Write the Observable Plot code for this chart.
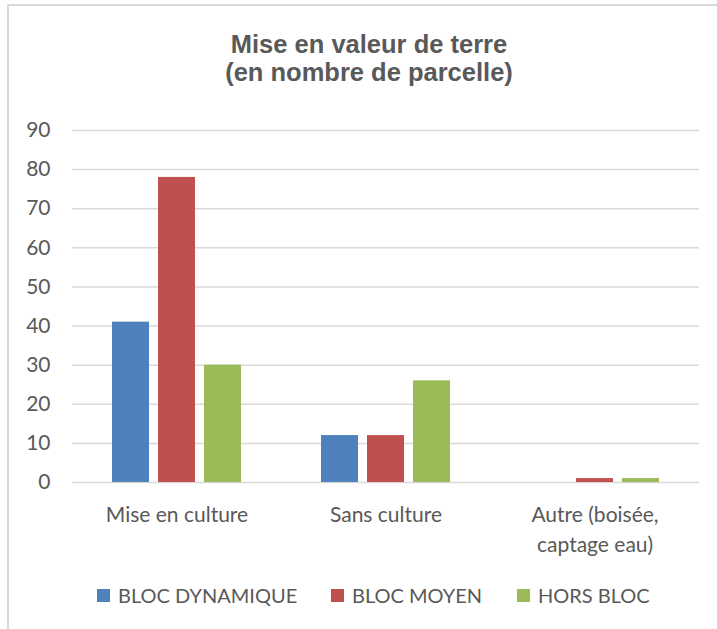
<!DOCTYPE html>
<html>
<head>
<meta charset="utf-8">
<script src="https://cdn.jsdelivr.net/npm/d3@7"></script>
<script src="https://cdn.jsdelivr.net/npm/@observablehq/plot@0.6"></script>
<style>
  body { margin: 0; background: #fff; }
  #wrap { position: relative; width: 717px; height: 629px; overflow: hidden; font-family: Lato, "Noto Sans", sans-serif; color: #595959; }
  #frame { position: absolute; left: 7px; top: 4px; width: 800px; height: 700px; border-left: 2px solid #d9d9d9; border-top: 2px solid #d9d9d9; }
  .title { position: absolute; left: 0; width: 738px; text-align: center; font-family: "Liberation Sans", Arial, sans-serif; font-weight: bold; font-size: 25.5px; line-height: 28.5px; height: 28.5px; color: #595959; white-space: nowrap; }
  #t1 { top: 29.5px; }
  #t2 { top: 58px; }
  #chart { position: absolute; left: 0; top: 100px; }
  #legend { position: absolute; top: 583px; left: 0; width: 717px; font-size: 20px; }
  .item { position: absolute; display: flex; align-items: center; white-space: nowrap; }
  .sw { width: 13px; height: 13px; margin-right: 8px; }
</style>
</head>
<body>
<div id="wrap">
  <div id="frame"></div>
  <div class="title" id="t1">Mise en valeur de terre</div>
  <div class="title" id="t2">(en nombre de parcelle)</div>
  <div id="chart"></div>
  <div id="legend"></div>
</div>
<script>
const categories = ["Mise en culture", "Sans culture", "Autre (boisée, captage eau)"];
const categoryLabels = ["Mise en culture", "Sans culture", "Autre (boisée,\ncaptage eau)"];
const series = ["BLOC DYNAMIQUE", "BLOC MOYEN", "HORS BLOC"];
const blocDynamique = [41, 12, 0];
const blocMoyen = [78, 12, 1];
const horsBloc = [30, 26, 1];
const colors = ["#4F81BD", "#C0504D", "#9BBB59"];
const yTicks = [0, 10, 20, 30, 40, 50, 60, 70, 80, 90];

const seriesValues = [blocDynamique, blocMoyen, horsBloc];
const data = [];
categories.forEach((c, i) => {
  series.forEach((s, j) => data.push({ category: c, series: s, value: seriesValues[j][i] }));
});
const labelMap = new Map(categories.map((c, i) => [c, categoryLabels[i]]));

const chart = Plot.plot({
  width: 717,
  height: 462,
  marginLeft: 72,
  marginRight: 18,
  marginTop: 30,
  marginBottom: 80,
  style: { fontFamily: "Lato, 'Noto Sans', sans-serif", fontSize: "21px", color: "#595959", background: "transparent" },
  fx: { domain: categories, padding: 0, label: null },
  x: { domain: series, paddingInner: 0.2, paddingOuter: 0.87, axis: null },
  y: { domain: [0, 90], label: null },
  color: { domain: series, range: colors },
  marks: [
    Plot.ruleY(yTicks, { stroke: "#d9d9d9", strokeWidth: 1.5 }),
    Plot.axisY(yTicks, { tickSize: 0, tickPadding: 22, label: null, fill: "#595959", fontSize: 21 }),
    Plot.axisFx({ anchor: "bottom", tickSize: 0, tickPadding: 19, label: null, tickFormat: d => labelMap.get(d), fill: "#595959", fontSize: 21, lineHeight: 1.4 }),
    Plot.barY(data, { fx: "category", x: "series", y: "value", fill: "series" })
  ]
});
document.getElementById("chart").appendChild(chart);

const legend = document.getElementById("legend");
const lefts = [97, 331, 517];
series.forEach((s, i) => {
  const el = document.createElement("div");
  el.className = "item";
  el.style.left = lefts[i] + "px";
  const sw = document.createElement("div");
  sw.className = "sw";
  sw.style.background = colors[i];
  el.appendChild(sw);
  el.appendChild(document.createTextNode(s));
  legend.appendChild(el);
});
</script>
</body>
</html>
